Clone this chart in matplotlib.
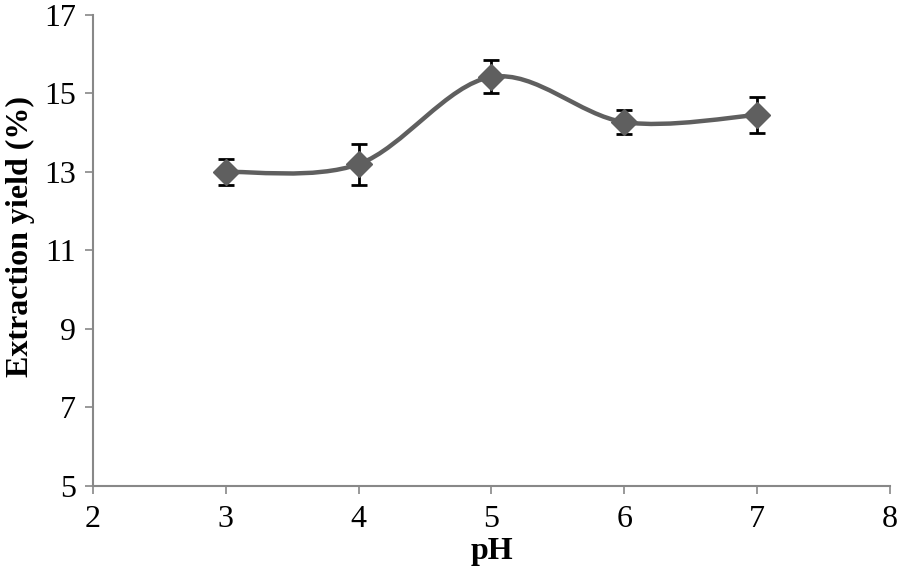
import numpy as np
import matplotlib
matplotlib.use("Agg")
import matplotlib.pyplot as plt
from matplotlib.path import Path
from matplotlib.patches import PathPatch

ph = [3, 4, 5, 6, 7]
yield_pct = [13.0, 13.2, 15.42, 14.27, 14.45]
err = [0.34, 0.52, 0.42, 0.31, 0.45]
xticks = [2, 3, 4, 5, 6, 7, 8]
yticks = [5, 7, 9, 11, 13, 15, 17]

plt.rcParams['font.family'] = ['Liberation Serif', 'DejaVu Serif']

fig = plt.figure(figsize=(8.98, 5.75), dpi=100)
ax = fig.add_axes([0.1036, 0.1548, 0.8874, 0.8192])

# smoothed line (Excel-like Catmull-Rom Bezier) built from data points
x = np.array(ph, float)
y = np.array(yield_pct, float)
verts = [(x[0], y[0])]
codes = [Path.MOVETO]
n = len(x)
for i in range(n - 1):
    p0 = (x[i - 1], y[i - 1]) if i > 0 else (x[i], y[i])
    p1 = (x[i], y[i])
    p2 = (x[i + 1], y[i + 1])
    p3 = (x[i + 2], y[i + 2]) if i + 2 < n else (x[i + 1], y[i + 1])
    c1 = (p1[0] + (p2[0] - p0[0]) / 6, p1[1] + (p2[1] - p0[1]) / 6)
    c2 = (p2[0] - (p3[0] - p1[0]) / 6, p2[1] - (p3[1] - p1[1]) / 6)
    verts += [c1, c2, p2]
    codes += [Path.CURVE4] * 3
ax.add_patch(PathPatch(Path(verts, codes), facecolor='none', edgecolor='#5f5f5f', lw=3.2, zorder=2))

ax.errorbar(ph, yield_pct, yerr=err, fmt='none', ecolor='black', elinewidth=2,
            capsize=6, capthick=2, zorder=3)
ax.plot(ph, yield_pct, linestyle='none', marker='D', markersize=13,
        color='#5f5f5f', zorder=4)

ax.set_xlim(2, 8)
ax.set_ylim(5, 17)
ax.set_xticks(xticks)
ax.set_yticks(yticks)
ax.tick_params(axis='both', labelsize=23, direction='out', length=6, width=1.2, color='#888888')
ax.tick_params(axis='x', pad=8)
ax.tick_params(axis='y', pad=6)
for s in ['top', 'right']:
    ax.spines[s].set_visible(False)
for s in ['left', 'bottom']:
    ax.spines[s].set_color('#888888')
    ax.spines[s].set_linewidth(1.5)

ax.set_xlabel('pH', fontsize=23, fontweight='bold', labelpad=2)
ax.set_ylabel('Extraction yield (%)', fontsize=23, fontweight='bold')
ax.yaxis.set_label_coords(-0.073, 0.53)

fig.savefig('out.png', dpi=100)
